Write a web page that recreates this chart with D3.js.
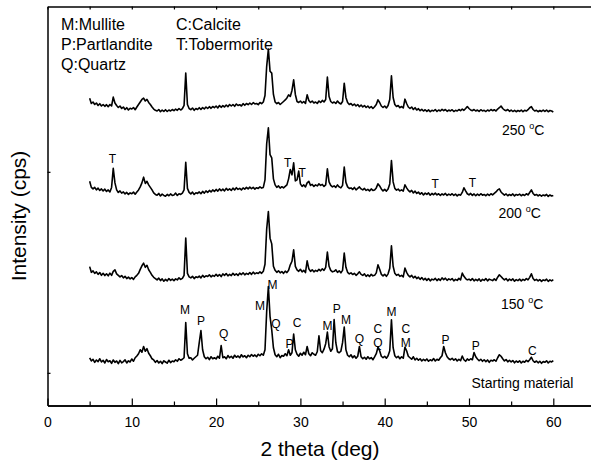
<!DOCTYPE html>
<html>
<head>
<meta charset="utf-8">
<script src="https://cdn.jsdelivr.net/npm/d3@7"></script>
<style>
  body { margin: 0; background: #fff; }
  text { font-family: "Liberation Sans", Arial, Helvetica, sans-serif; fill: #000; }
</style>
</head>
<body>
<svg id="chart" width="591" height="466"></svg>
<script>
// scan settings of the diffractometer: 5 to 60 deg, 0.2 deg per step
const scanStart = 5;
const scanStep = 0.2;

// counts per step, one row per degree (x.0 x.2 x.4 x.6 x.8)
const startingMaterial = [
  150, 118, 135, 104, 128, 112, 140, 108, 125, 98, 132, 110, 120, 95, 128,
  105, 118, 92, 124, 100, 112, 130, 98, 120, 108, 138, 115, 150, 168, 190,
  230, 205, 262, 215, 240, 195, 170, 140, 128, 105, 122, 98, 115, 92, 120,
  108, 96, 125, 102, 118, 110, 130, 115, 140, 125, 135, 150, 500, 190, 145,
  150, 128, 145, 160, 175, 300, 421, 230, 160, 140, 155, 132, 160, 140, 150,
  138, 165, 145, 272, 150, 160, 140, 172, 150, 165, 145, 175, 155, 168, 150,
  180, 158, 170, 150, 175, 160, 182, 165, 178, 160, 185, 170, 190, 175, 230,
  610, 859, 560, 428, 250, 180, 160, 185, 150, 172, 165, 190, 170, 230, 175,
  200, 385, 230, 185, 165, 195, 175, 205, 180, 262, 190, 170, 200, 185, 175,
  210, 368, 220, 200, 235, 290, 405, 260, 215, 240, 530, 300, 210, 200, 215,
  300, 455, 230, 175, 160, 180, 150, 170, 145, 165, 262, 160, 140, 155, 135,
  160, 140, 152, 130, 158, 190, 255, 220, 165, 150, 165, 145, 170, 220, 527,
  250, 170, 150, 165, 140, 160, 145, 255, 220, 165, 150, 135, 160, 128, 145,
  125, 140, 118, 135, 122, 138, 115, 130, 120, 142, 118, 135, 125, 150, 170,
  262, 200, 160, 140, 130, 145, 125, 140, 118, 135, 120, 168, 130, 115, 138,
  125, 140, 130, 202, 160, 138, 120, 135, 115, 130, 112, 128, 105, 125, 118,
  130, 115, 150, 180, 165, 140, 118, 132, 110, 125, 108, 122, 100, 118, 105,
  120, 98, 115, 105, 125, 112, 130, 155, 120, 105, 118, 100, 115, 95, 112,
  105, 120, 98, 115, 108, 122
];

const sample150 = [
  237, 180, 195, 170, 185, 160, 178, 150, 170, 148, 165, 145, 172, 150, 190,
  205, 165, 150, 135, 148, 125, 140, 118, 132, 115, 128, 110, 135, 150, 170,
  210, 245, 271, 230, 250, 205, 180, 150, 130, 118, 105, 122, 98, 115, 92,
  110, 95, 118, 100, 112, 98, 115, 105, 125, 110, 120, 150, 520, 170, 135,
  125, 140, 118, 135, 128, 142, 125, 150, 132, 145, 138, 155, 135, 150, 140,
  160, 142, 158, 138, 165, 150, 168, 145, 160, 148, 170, 152, 165, 148, 172,
  158, 175, 155, 170, 160, 178, 160, 182, 165, 175, 168, 185, 170, 190, 260,
  610, 785, 520, 463, 240, 200, 180, 195, 175, 188, 170, 192, 178, 200, 255,
  290, 404, 240, 205, 190, 210, 185, 200, 178, 294, 215, 190, 205, 185, 200,
  190, 210, 195, 215, 200, 230, 381, 240, 200, 185, 190, 205, 180, 195, 175,
  200, 371, 230, 180, 165, 175, 158, 170, 150, 165, 185, 160, 150, 165, 140,
  155, 138, 160, 145, 150, 175, 255, 210, 160, 145, 160, 140, 165, 220, 444,
  240, 170, 150, 160, 140, 150, 135, 222, 180, 150, 135, 150, 125, 140, 118,
  132, 110, 128, 105, 120, 100, 118, 95, 112, 105, 120, 98, 115, 100, 125,
  108, 122, 100, 115, 105, 118, 95, 110, 100, 120, 105, 172, 140, 118, 105,
  112, 100, 118, 95, 110, 98, 115, 92, 110, 100, 118, 95, 112, 105, 98,
  115, 100, 132, 155, 138, 120, 105, 118, 95, 112, 100, 115, 92, 108, 98,
  112, 95, 110, 100, 118, 105, 130, 165, 118, 100, 110, 95, 108, 90, 105,
  98, 112, 90, 105, 95, 108
];

const sample200 = [
  237, 175, 160, 175, 150, 168, 145, 160, 140, 158, 135, 150, 130, 175, 364,
  220, 150, 125, 140, 118, 130, 110, 125, 105, 120, 112, 128, 108, 130, 150,
  180, 220, 277, 215, 235, 200, 175, 150, 120, 105, 98, 115, 90, 108, 95,
  88, 105, 92, 110, 96, 100, 118, 95, 112, 105, 118, 150, 426, 165, 125,
  110, 128, 105, 122, 115, 130, 112, 135, 118, 140, 125, 145, 130, 150, 135,
  155, 138, 160, 142, 158, 140, 165, 148, 160, 145, 168, 150, 172, 155, 165,
  150, 170, 158, 175, 160, 178, 162, 175, 158, 172, 165, 180, 168, 175, 250,
  609, 768, 500, 469, 260, 200, 175, 190, 168, 182, 170, 185, 200, 260, 353,
  300, 419, 240, 250, 337, 210, 185, 200, 180, 220, 235, 195, 205, 185, 200,
  190, 210, 195, 205, 185, 200, 360, 230, 195, 180, 190, 175, 200, 180, 170,
  195, 377, 225, 180, 165, 170, 155, 175, 150, 165, 180, 160, 150, 165, 145,
  155, 140, 160, 145, 150, 170, 210, 190, 160, 140, 155, 138, 160, 210, 442,
  230, 165, 148, 158, 140, 150, 138, 200, 170, 145, 130, 145, 120, 138, 115,
  128, 108, 122, 100, 118, 105, 120, 98, 115, 102, 118, 100, 112, 95, 110,
  100, 115, 95, 108, 98, 112, 95, 108, 90, 105, 98, 125, 171, 140, 112,
  100, 115, 95, 110, 92, 108, 95, 112, 98, 105, 92, 108, 95, 112, 100,
  115, 130, 150, 160, 130, 112, 98, 110, 92, 105, 95, 110, 90, 105, 98,
  108, 92, 105, 95, 112, 100, 125, 150, 115, 98, 105, 90, 102, 88, 100,
  92, 105, 85, 100, 90, 95
];

const sample250 = [
  213, 160, 175, 150, 165, 140, 158, 135, 150, 132, 148, 128, 150, 135, 223,
  165, 140, 120, 135, 110, 125, 100, 118, 95, 112, 105, 120, 98, 125, 150,
  175, 200, 213, 185, 200, 170, 150, 125, 105, 92, 85, 100, 78, 95, 82,
  98, 80, 95, 85, 100, 88, 105, 92, 110, 95, 108, 140, 462, 150, 110,
  98, 115, 92, 110, 100, 118, 100, 120, 105, 125, 110, 128, 112, 130, 118,
  135, 115, 140, 122, 138, 125, 145, 128, 150, 135, 150, 132, 155, 140, 148,
  135, 158, 142, 160, 148, 165, 150, 168, 155, 160, 148, 170, 158, 175, 240,
  530, 701, 480, 462, 250, 175, 158, 170, 150, 165, 180, 195, 215, 246, 230,
  290, 395, 250, 180, 170, 185, 165, 180, 160, 246, 190, 170, 185, 165, 175,
  160, 185, 170, 190, 175, 200, 422, 230, 180, 165, 175, 160, 185, 165, 155,
  180, 362, 220, 170, 150, 160, 140, 155, 135, 150, 128, 145, 125, 140, 120,
  135, 115, 130, 110, 128, 150, 196, 170, 135, 120, 135, 115, 140, 200, 435,
  220, 150, 130, 140, 118, 130, 115, 203, 160, 125, 110, 125, 100, 118, 95,
  108, 88, 102, 85, 98, 82, 96, 78, 92, 85, 100, 80, 95, 85, 102,
  88, 100, 82, 95, 86, 98, 80, 92, 85, 100, 88, 105, 92, 110, 130,
  110, 95, 88, 100, 85, 95, 82, 98, 86, 92, 80, 95, 85, 100, 88,
  98, 85, 105, 118, 135, 110, 95, 88, 100, 82, 95, 80, 92, 78, 90,
  82, 95, 78, 92, 85, 98, 118, 128, 100, 85, 92, 78, 90, 80, 95,
  82, 95, 78, 90, 85, 75
];

// patterns are stacked: vertical offset (cps) for each one
const seriesNames = ["Starting material", "150", "200", "250"];
const seriesOffsets = [0, 820, 1670, 2520];

// phase letters above the starting material peaks
const startPeakLetters = ["M", "P", "Q", "M", "M", "Q", "P", "C", "M", "P", "M", "Q", "C", "Q", "M", "C", "M", "P", "P", "C"];
const startPeakTheta = [16.3, 18.2, 20.9, 25.2, 26.7, 27.1, 28.7, 29.6, 33.2, 34.3, 35.4, 37.0, 39.2, 39.2, 40.8, 42.5, 42.5, 47.2, 50.8, 57.5];
const startPeakCps = [587, 471, 348, 627, 833, 445, 249, 455, 428, 594, 488, 296, 395, 256, 570, 395, 256, 282, 229, 182];

// tobermorite marks on the 200 C pattern
const tobTheta = [7.7, 28.5, 30.2, 46.0, 50.4];
const tobCps = [413, 380, 280, 171, 181];

// where each pattern's name sits (theta, cps relative to its offset)
const nameTheta = [50.3, 53.8, 53.5, 53.9];
const nameCps = [-152, -186, -131, -155];

const legendRows = [["M:Mullite", "C:Calcite"], ["P:Partlandite", "T:Tobermorite"], ["Q:Quartz"]];

const xMajorTicks = [0, 10, 20, 30, 40, 50, 60];
const xMinorTicks = [5, 15, 25, 35, 45, 55];
const yTicks = [0, 2000];

const svg = d3.select("#chart");
const plotLeft = 47.5;
const plotTop = 6.5;
const plotBottom = 405.5;

const x = d3.scaleLinear().domain([0, 65]).range([plotLeft, plotLeft + 65 * 8.43]);
const y = d3.scaleLinear().domain([-325, 3645]).range([plotBottom, plotTop]);

const allSeries = [startingMaterial, sample150, sample200, sample250];

const line = d3.line()
  .x((d) => x(d[0]))
  .y((d) => y(d[1]));

allSeries.forEach((counts, k) => {
  const pts = counts.map((c, i) => [scanStart + i * scanStep, c + seriesOffsets[k]]);
  svg.append("path")
    .datum(pts)
    .attr("fill", "none")
    .attr("stroke", "#000")
    .attr("stroke-width", 1.6)
    .attr("stroke-linejoin", "round")
    .attr("d", line);
});

// axes (ticks point inwards)
function styleAxis(g) {
  g.selectAll("path").attr("stroke", "#000").attr("stroke-width", 1.5);
  g.selectAll("line").attr("stroke", "#000").attr("stroke-width", 1.2);
}

svg.append("g")
  .attr("transform", "translate(0," + plotBottom + ")")
  .call(d3.axisBottom(x).tickValues(xMinorTicks).tickSize(-4).tickSizeOuter(0).tickFormat(""))
  .call(styleAxis);

const xAxis = svg.append("g")
  .attr("transform", "translate(0," + plotBottom + ")")
  .call(d3.axisBottom(x).tickValues(xMajorTicks).tickSize(-7).tickSizeOuter(0).tickPadding(12))
  .call(styleAxis);
xAxis.selectAll("text")
  .attr("font-size", "14px")
  .attr("font-family", "Liberation Sans, Arial, sans-serif");

svg.append("g")
  .attr("transform", "translate(0," + plotTop + ")")
  .call(d3.axisTop(x).tickValues(xMajorTicks.concat(xMinorTicks)).tickSize(-3).tickSizeOuter(0).tickFormat(""))
  .call(styleAxis);

svg.append("g")
  .attr("transform", "translate(" + plotLeft + ",0)")
  .call(d3.axisLeft(y).tickValues(yTicks).tickSize(-3).tickSizeOuter(0).tickFormat(""))
  .call(styleAxis);

// axis titles
svg.append("text")
  .attr("x", 320)
  .attr("y", 456)
  .attr("text-anchor", "middle")
  .attr("font-size", "21px")
  .text("2 theta (deg)");

svg.append("text")
  .attr("transform", "translate(26,216) rotate(-90)")
  .attr("text-anchor", "middle")
  .attr("font-size", "21px")
  .text("Intensity (cps)");

// legend of phase letters
legendRows.forEach((row, r) => {
  row.forEach((t, c) => {
    svg.append("text")
      .attr("x", c == 0 ? 61 : 176)
      .attr("y", 30 + r * 20)
      .attr("font-size", "16px")
      .text(t);
  });
});

// peak letters
startPeakLetters.forEach((t, i) => {
  svg.append("text")
    .attr("x", x(startPeakTheta[i]))
    .attr("y", y(startPeakCps[i] + seriesOffsets[0]))
    .attr("text-anchor", "middle")
    .attr("font-size", "12px")
    .text(t);
});

tobTheta.forEach((t, i) => {
  svg.append("text")
    .attr("x", x(t))
    .attr("y", y(tobCps[i] + seriesOffsets[2]))
    .attr("text-anchor", "middle")
    .attr("font-size", "12px")
    .text("T");
});

// pattern names
seriesNames.forEach((n, k) => {
  const t = svg.append("text")
    .attr("x", x(nameTheta[k]))
    .attr("y", y(nameCps[k] + seriesOffsets[k]))
    .attr("font-size", "14px");
  if (k == 0) {
    t.text(n);
  } else {
    t.append("tspan").text(n + " ");
    t.append("tspan").attr("font-size", "9px").attr("dy", -6).text("o");
    t.append("tspan").attr("dy", 6).text("C");
  }
});
</script>
</body>
</html>
